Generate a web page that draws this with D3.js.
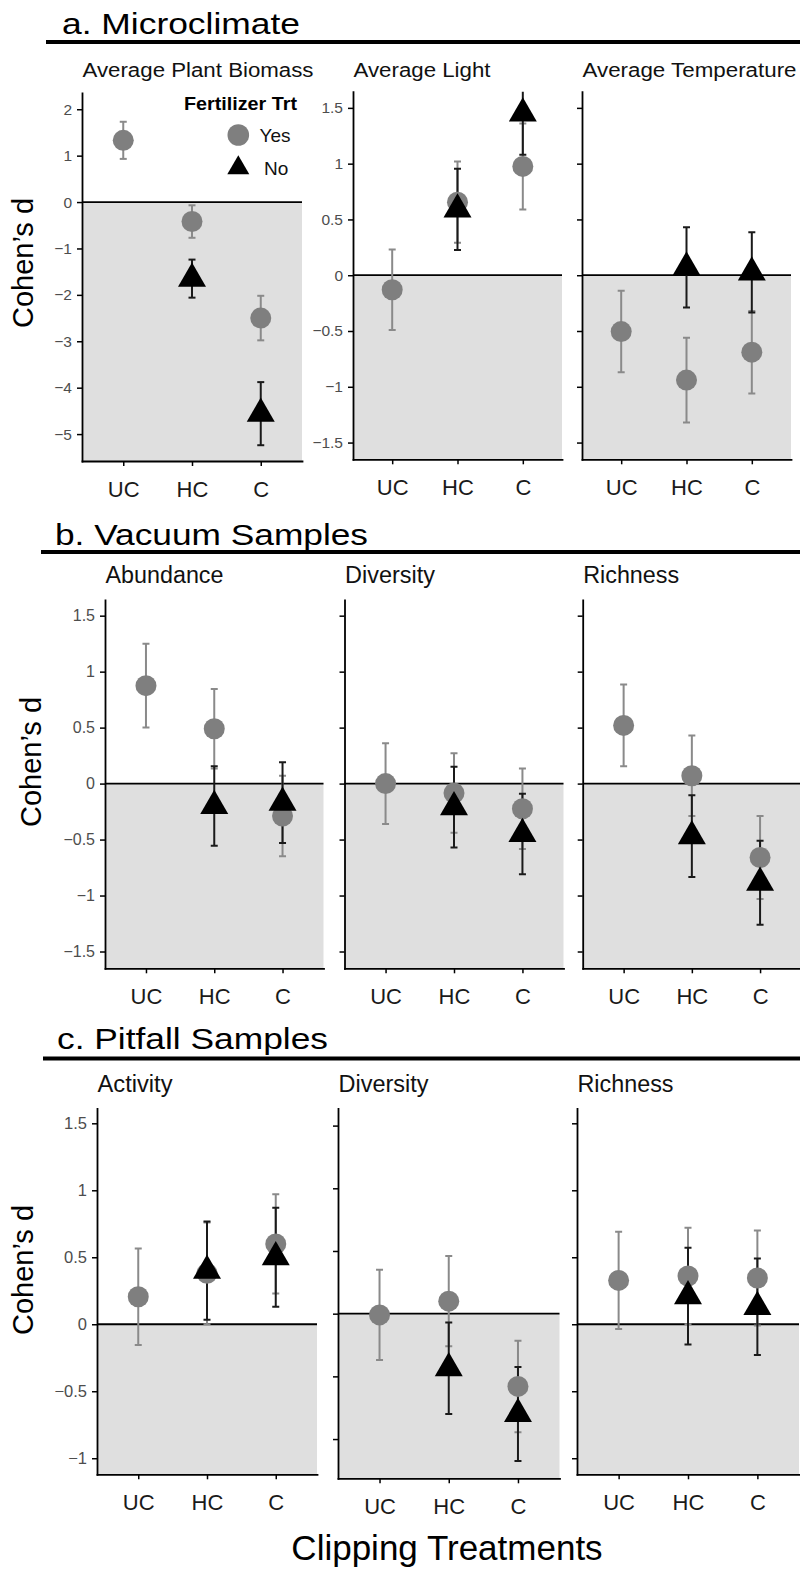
<!DOCTYPE html>
<html>
<head>
<meta charset="utf-8">
<script src="https://cdn.jsdelivr.net/npm/d3@7"></script>
<style>
body { margin: 0; background: #fff; }
text { font-family: "Liberation Sans", Arial, Helvetica, sans-serif; }
</style>
</head>
<body>
<div id="chart"></div>
<script>
var treatments = ["UC", "HC", "C"];
var fertilizer = ["Yes", "No"];
var ticksWide = [-5, -4, -3, -2, -1, 0, 1, 2];
var ticksHalf = [-1.5, -1, -0.5, 0, 0.5, 1, 1.5];

// a. Microclimate (Cohen's d and half width of the error bar)
var biomassYes = [1.33, -0.42, -2.5],   biomassYesErr = [0.40, 0.35, 0.48];
var biomassNo = [null, -1.65, -4.56],   biomassNoErr = [null, 0.41, 0.68];
var lightYes = [-0.13, 0.655, 0.975],   lightYesErr = [0.36, 0.365, 0.385];
var lightNo = [null, 0.59, 1.45],       lightNoErr = [null, 0.365, 0.37];
var tempYes = [-0.505, -0.94, -0.69],   tempYesErr = [0.365, 0.38, 0.37];
var tempNo = [null, 0.07, 0.025],       tempNoErr = [null, 0.36, 0.36];

// b. Vacuum samples
var vacAbundYes = [0.875, 0.49, -0.29], vacAbundYesErr = [0.375, 0.355, 0.36];
var vacAbundNo = [null, -0.2, -0.17],   vacAbundNoErr = [null, 0.356, 0.36];
var vacDivYes = [0.0, -0.085, -0.225],  vacDivYesErr = [0.36, 0.355, 0.36];
var vacDivNo = [null, -0.21, -0.45],    vacDivNoErr = [null, 0.36, 0.36];
var vacRichYes = [0.52, 0.07, -0.66],   vacRichYesErr = [0.365, 0.36, 0.37];
var vacRichNo = [null, -0.47, -0.885],  vacRichNoErr = [null, 0.365, 0.375];

// c. Pitfall samples
var pitActYes = [0.205, 0.38, 0.6],     pitActYesErr = [0.36, 0.38, 0.37];
var pitActNo = [null, 0.4, 0.5],        pitActNoErr = [null, 0.367, 0.37];
var pitDivYes = [-0.01, 0.1, -0.58],    pitDivYesErr = [0.36, 0.36, 0.365];
var pitDivNo = [null, -0.435, -0.8],    pitDivNoErr = [null, 0.365, 0.375];
var pitRichYes = [0.327, 0.36, 0.345],  pitRichYesErr = [0.363, 0.36, 0.355];
var pitRichNo = [null, 0.21, 0.13],     pitRichNoErr = [null, 0.362, 0.36];

var svgWidth = 800;
var svgHeight = 1570;

var svg = d3.select("#chart")
            .append("svg")
            .attr("width", svgWidth)
            .attr("height", svgHeight);

var sections = [
  {title: "a. Microclimate", tx: 62, ty: 34, tlen: 238, rule: 42, ruleX: 46,
   ylab: [33, 263], facetY: 76.5, facetSize: 20, tickFont: 15.5,
   panels: [
     {name: "Average Plant Biomass", nlen: 231, labels: true, x0: 82, x1: 302, top: 93, bottom: 461, domain: [-5.58, 2.35], ticks: ticksWide,
      yes: biomassYes, yesErr: biomassYesErr, no: biomassNo, noErr: biomassNoErr},
     {name: "Average Light", nlen: 137, labels: true, x0: 353, x1: 562, top: 91.7, bottom: 459.3, domain: [-1.65, 1.645], ticks: ticksHalf,
      yes: lightYes, yesErr: lightYesErr, no: lightNo, noErr: lightNoErr},
     {name: "Average Temperature", nlen: 214, labels: false, x0: 582, x1: 791, top: 91.7, bottom: 459.3, domain: [-1.65, 1.645], ticks: ticksHalf,
      yes: tempYes, yesErr: tempYesErr, no: tempNo, noErr: tempNoErr}
   ]},
  {title: "b. Vacuum Samples", tx: 55, ty: 545, tlen: 313, rule: 552, ruleX: 41,
   ylab: [41, 762], facetY: 583.3, facetSize: 23, tickFont: 16,
   panels: [
     {name: "Abundance", nlen: 118, labels: true, x0: 105, x1: 323.5, top: 600, bottom: 968.3, domain: [-1.65, 1.64], ticks: ticksHalf,
      yes: vacAbundYes, yesErr: vacAbundYesErr, no: vacAbundNo, noErr: vacAbundNoErr},
     {name: "Diversity", nlen: 90, labels: false, x0: 344.5, x1: 563.5, top: 600, bottom: 968.3, domain: [-1.65, 1.64], ticks: ticksHalf,
      yes: vacDivYes, yesErr: vacDivYesErr, no: vacDivNo, noErr: vacDivNoErr},
     {name: "Richness", nlen: 96, labels: false, x0: 582.7, x1: 801, top: 600, bottom: 968.3, domain: [-1.65, 1.64], ticks: ticksHalf,
      yes: vacRichYes, yesErr: vacRichYesErr, no: vacRichNo, noErr: vacRichNoErr}
   ]},
  {title: "c. Pitfall Samples", tx: 57, ty: 1049, tlen: 271, rule: 1058.5, ruleX: 43,
   ylab: [33, 1270], facetY: 1091.7, facetSize: 23, tickFont: 16.5,
   panels: [
     {name: "Activity", nlen: 75, labels: true, x0: 97, x1: 317, top: 1108.3, bottom: 1474.3, domain: [-1.12, 1.612], ticks: ticksHalf,
      yes: pitActYes, yesErr: pitActYesErr, no: pitActNo, noErr: pitActNoErr},
     {name: "Diversity", nlen: 90, labels: false, x0: 338, x1: 559.5, top: 1108.3, bottom: 1478.3, domain: [-1.313, 1.638], ticks: ticksHalf,
      yes: pitDivYes, yesErr: pitDivYesErr, no: pitDivNo, noErr: pitDivNoErr},
     {name: "Richness", nlen: 96, labels: false, x0: 577, x1: 799, top: 1108.3, bottom: 1474.3, domain: [-1.12, 1.612], ticks: ticksHalf,
      yes: pitRichYes, yesErr: pitRichYesErr, no: pitRichNo, noErr: pitRichNoErr}
   ]}
];

var grayPoint = "#7f7f7f";
var grayBar = "#8a8a8a";
var blackBar = "#1a1a1a";
var triangle = d3.symbol().type(d3.symbolTriangle).size(339);
var fmt = function(v) { return (v < 0 ? "\u2212" : "") + Math.abs(v); };
var clipCount = 0;

function errorBars(g, rows, key, x, y, color) {
  var bars = g.append("g").attr("stroke", color).attr("stroke-width", 2);
  rows.filter(d => d[key] != null).forEach(function(d) {
    var lo = y(d[key] - d[key + "Err"]), hi = y(d[key] + d[key + "Err"]), cx = x(d.t);
    bars.append("line").attr("x1", cx).attr("x2", cx).attr("y1", lo).attr("y2", hi);
    bars.append("line").attr("x1", cx - 3.5).attr("x2", cx + 3.5).attr("y1", lo).attr("y2", lo);
    bars.append("line").attr("x1", cx - 3.5).attr("x2", cx + 3.5).attr("y1", hi).attr("y2", hi);
  });
}

function drawPanel(sec, p) {
  var x = d3.scalePoint().domain(treatments).range([p.x0, p.x1]).padding(0.6);
  var y = d3.scaleLinear().domain(p.domain).range([p.bottom, p.top]);
  var g = svg.append("g");

  g.append("rect")
   .attr("x", p.x0).attr("y", y(0))
   .attr("width", p.x1 - p.x0).attr("height", p.bottom - y(0))
   .attr("fill", "#dfdfdf");
  g.append("line")
   .attr("x1", p.x0).attr("x2", p.x1).attr("y1", y(0)).attr("y2", y(0))
   .attr("stroke", "#000").attr("stroke-width", 1.8);

  var clipId = "clip" + (clipCount++);
  svg.append("clipPath").attr("id", clipId).append("rect")
     .attr("x", p.x0).attr("y", p.top).attr("width", p.x1 - p.x0).attr("height", p.bottom - p.top);
  var marks = g.append("g").attr("clip-path", "url(#" + clipId + ")");

  var rows = treatments.map(function(t, i) {
    return {t: t, yes: p.yes[i], yesErr: p.yesErr[i], no: p.no[i], noErr: p.noErr[i]};
  });

  errorBars(marks, rows, "yes", x, y, grayBar);
  errorBars(marks, rows, "no", x, y, blackBar);

  marks.selectAll("circle")
       .data(rows.filter(d => d.yes != null))
       .enter().append("circle")
       .attr("cx", d => x(d.t)).attr("cy", d => y(d.yes))
       .attr("r", 10.5).attr("fill", grayPoint);

  marks.selectAll("path.tri")
       .data(rows.filter(d => d.no != null))
       .enter().append("path").attr("class", "tri")
       .attr("d", triangle)
       .attr("transform", d => `translate(${x(d.t)}, ${y(d.no)})`)
       .attr("fill", "#000");

  var yAxis = d3.axisLeft(y)
                .tickValues(p.ticks.filter(t => t >= p.domain[0] && t <= p.domain[1]))
                .tickSize(5).tickSizeOuter(0).tickPadding(5)
                .tickFormat(p.labels ? fmt : "");
  var xAxis = d3.axisBottom(x).tickSize(5).tickSizeOuter(0).tickPadding(15);

  var ya = g.append("g").attr("transform", `translate(${p.x0},0)`).call(yAxis);
  var xa = g.append("g").attr("transform", `translate(0,${p.bottom})`).call(xAxis);
  [ya, xa].forEach(function(a) {
    a.attr("font-family", null);
    a.select(".domain").attr("stroke", "#000").attr("stroke-width", 1.8).attr("stroke-linecap", "square");
    a.selectAll(".tick line").attr("stroke", "#000").attr("stroke-width", 1.5);
  });
  ya.selectAll("text").attr("font-size", sec.tickFont).attr("fill", "#4d4d4d");
  xa.selectAll("text").attr("font-size", 22).attr("fill", "#1a1a1a");

  svg.append("text")
     .attr("x", p.x0 + 0.5).attr("y", sec.facetY)
     .attr("font-size", sec.facetSize)
     .attr("textLength", p.nlen).attr("lengthAdjust", "spacingAndGlyphs")
     .attr("fill", "#111")
     .text(p.name);
}

sections.forEach(function(sec) {
  svg.append("text")
     .attr("x", sec.tx).attr("y", sec.ty)
     .attr("font-size", 30)
     .attr("textLength", sec.tlen).attr("lengthAdjust", "spacingAndGlyphs")
     .attr("fill", "#000")
     .text(sec.title);
  svg.append("line")
     .attr("x1", sec.ruleX).attr("x2", svgWidth).attr("y1", sec.rule).attr("y2", sec.rule)
     .attr("stroke", "#000").attr("stroke-width", 4);
  svg.append("text")
     .attr("transform", `translate(${sec.ylab[0]}, ${sec.ylab[1]}) rotate(-90)`)
     .attr("text-anchor", "middle")
     .attr("font-size", 29)
     .attr("fill", "#000")
     .text("Cohen\u2019s d");
  sec.panels.forEach(function(p) { drawPanel(sec, p); });
});

// legend inside the first panel
var legend = svg.append("g");
legend.append("text")
      .attr("x", 184).attr("y", 110)
      .attr("font-size", 19).attr("font-weight", "bold")
      .attr("textLength", 113).attr("lengthAdjust", "spacingAndGlyphs")
      .text("Fertilizer Trt");
legend.selectAll("g.key")
      .data(fertilizer)
      .enter().append("g").attr("class", "key")
      .each(function(f, i) {
        var k = d3.select(this);
        var cy = i === 0 ? 135 : 168;
        if (f === "Yes") {
          k.append("circle").attr("cx", 238.3).attr("cy", cy).attr("r", 10.8).attr("fill", grayPoint);
        } else {
          k.append("path").attr("d", d3.symbol().type(d3.symbolTriangle).size(210))
           .attr("transform", `translate(238.3, ${cy})`).attr("fill", "#000");
        }
        k.append("text").attr("x", i === 0 ? 259.5 : 264).attr("y", cy + 7)
         .attr("font-size", 19).attr("fill", "#111").text(f);
      });

svg.append("text")
   .attr("x", 447).attr("y", 1560)
   .attr("text-anchor", "middle")
   .attr("font-size", 35)
   .attr("fill", "#000")
   .text("Clipping Treatments");
</script>
</body>
</html>
